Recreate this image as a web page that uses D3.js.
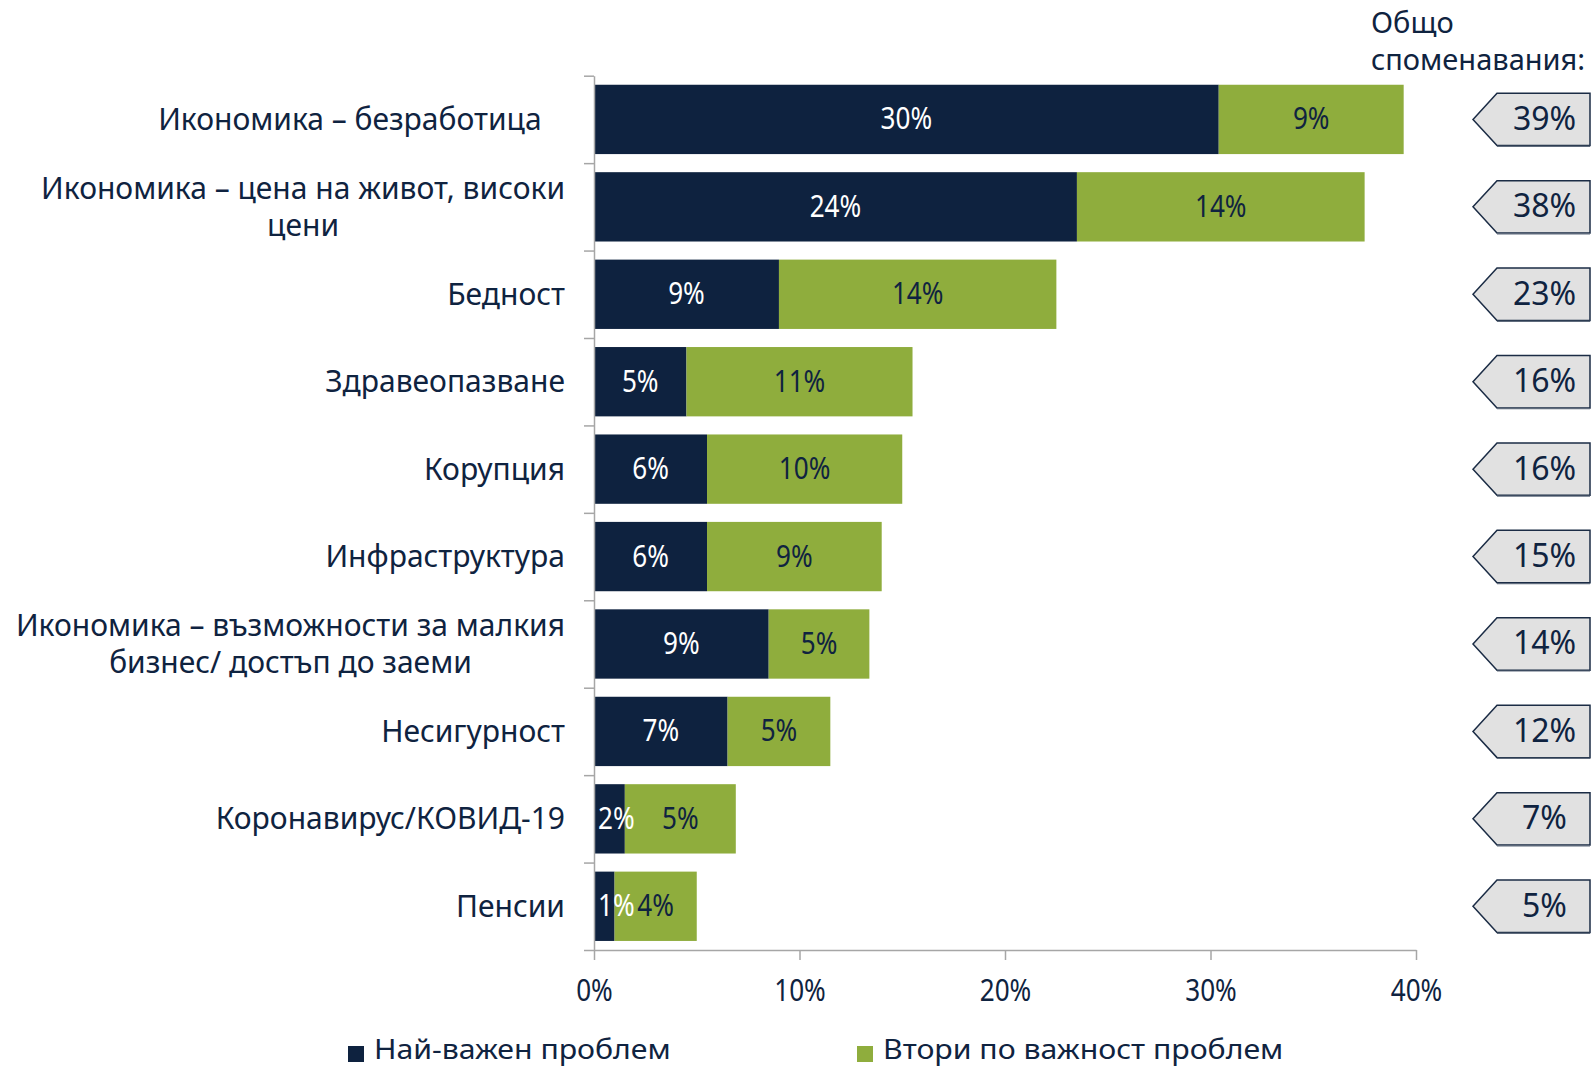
<!DOCTYPE html>
<html><head><meta charset="utf-8">
<script src="https://cdn.jsdelivr.net/npm/d3@7"></script>
<style>
html,body{margin:0;padding:0;background:#fff;}
svg{display:block;}
text{font-family:"Noto Sans",sans-serif;fill:#0f2340;}
</style></head>
<body>
<svg id="chart" width="1591" height="1068"></svg>
<script>
// ---- data ----
const categories = [
  ["Икономика – безработица\u00a0\u00a0\u00a0"],
  ["Икономика – цена на живот, високи", "цени"],
  ["Бедност"],
  ["Здравеопазване"],
  ["Корупция"],
  ["Инфраструктура"],
  ["Икономика – възможности за малкия", "бизнес/ достъп до заеми"],
  ["Несигурност"],
  ["Коронавирус/КОВИД-19"],
  ["Пенсии"]
];
const mostImportant = [30.4, 23.5, 9.0, 4.5, 5.5, 5.5, 8.5, 6.5, 1.5, 1.0];
const secondImportant = [9.0, 14.0, 13.5, 11.0, 9.5, 8.5, 4.9, 5.0, 5.4, 4.0];
const totalMentions = [39, 38, 23, 16, 16, 15, 14, 12, 7, 5];
const xTicks = [0, 10, 20, 30, 40];
const seriesNames = ["Най-важен проблем", "Втори по важност проблем"];
const totalTitle = ["Общо", "споменавания:"];

// ---- style ----
const DARK = "#0e223f", GREEN = "#8fad3d", AXIS = "#a6a6a6", TEXT = "#0f2340";

const svg = d3.select("#chart");
const idx = d3.range(categories.length);
const x = d3.scaleLinear().domain([0, 40]).range([594, 1416]);
const y = d3.scaleBand().domain(idx).range([75.7, 950]).paddingInner(0.207).paddingOuter(0.1035);
const yB = d3.scaleLinear().domain([0, categories.length]).range([75.7, 950]);

// scaled text helper
function stext(g, tx, ty, str, anchor, fs, sx) {
  return g.append("text")
    .attr("transform", `translate(${tx},${ty}) scale(${sx},1)`)
    .attr("text-anchor", anchor || "start")
    .attr("font-size", fs)
    .text(str);
}
const NUM_FS = 30, NUM_SX = 0.87;
const LAB_FS = 30, LAB_SX = 1.0;

// bars
const rows = svg.append("g").selectAll("g").data(idx).join("g");
rows.append("rect")
  .attr("x", x(0)).attr("y", i => y(i))
  .attr("width", i => x(mostImportant[i]) - x(0))
  .attr("height", y.bandwidth()).attr("fill", DARK);
rows.append("rect")
  .attr("x", i => x(mostImportant[i])).attr("y", i => y(i))
  .attr("width", i => x(mostImportant[i] + secondImportant[i]) - x(mostImportant[i]))
  .attr("height", y.bandwidth()).attr("fill", GREEN);

// axes
const yAxis = svg.append("g").attr("transform", `translate(${x(0)},0)`)
  .call(d3.axisLeft(yB).tickValues(d3.range(categories.length + 1)).tickFormat("").tickSizeInner(10).tickSizeOuter(0));
yAxis.selectAll("path,line").attr("stroke", AXIS).attr("stroke-width", 1.5);

const xAxis = svg.append("g").attr("transform", `translate(0,${yB(categories.length)})`)
  .call(d3.axisBottom(x).tickValues(xTicks).tickFormat(d => d + "%").tickSizeInner(10).tickSizeOuter(0));
xAxis.selectAll("path,line").attr("stroke", AXIS).attr("stroke-width", 1.5);
xAxis.selectAll("text")
  .attr("y", 51).attr("dy", null)
  .attr("font-size", NUM_FS).attr("fill", TEXT)
  .attr("font-family", "Noto Sans")
  .attr("transform", `scale(${NUM_SX},1)`);

// bar labels
rows.each(function(i) {
  const g = d3.select(this);
  const cy = y(i) + y.bandwidth() / 2 + 10;
  const x0 = x(0), x1 = x(mostImportant[i]), x2 = x(mostImportant[i] + secondImportant[i]);
  const t1 = stext(g, 0, cy, Math.round(mostImportant[i]) + "%", "middle", NUM_FS, NUM_SX).style("fill", "#fff");
  const w1 = t1.node().getComputedTextLength() * NUM_SX;
  const c1 = Math.max((x0 + x1) / 2, x0 + 4 + w1 / 2);
  t1.attr("transform", `translate(${c1},${cy}) scale(${NUM_SX},1)`);
  const c2 = (x1 + x2) / 2;
  stext(g, c2, cy, Math.round(secondImportant[i]) + "%", "middle", NUM_FS, NUM_SX).style("fill", TEXT);
});

// category labels
const labG = svg.append("g");
idx.forEach(i => {
  const lines = categories[i];
  const cy = y(i) + y.bandwidth() / 2;
  if (lines.length === 1) {
    stext(labG, 565, cy + 10.5, lines[0], "end", LAB_FS, LAB_SX);
  } else {
    const yy = k => cy + 10.5 + (k - (lines.length - 1) / 2) * 36.5;
    const ts = lines.map((l, k) => stext(labG, 0, yy(k), l, "middle", LAB_FS, LAB_SX));
    const maxW = d3.max(ts, t => t.node().getComputedTextLength() * LAB_SX);
    const cx = 565 - maxW / 2;
    ts.forEach((t, k) => t.attr("transform", `translate(${cx},${yy(k)}) scale(${LAB_SX},1)`));
  }
});

// total mentions title
const tg = svg.append("g");
totalTitle.forEach((l, k) => stext(tg, 1371, 33 + k * 37, l, "start", 29, 1.0));

// callouts
const cg = svg.append("g");
idx.forEach(i => {
  const cy = y(i) + y.bandwidth() / 2;
  const h = 26.2, tip = 1473, sl = 1497, right = 1590;
  cg.append("path")
    .attr("d", `M${tip},${cy} L${sl},${cy - h} L${right},${cy - h} L${right},${cy + h} L${sl},${cy + h} Z`)
    .attr("fill", "#e1e1e1").attr("stroke", "#1b2c45").attr("stroke-width", 1.5);
  cg.append("line").attr("x1", sl).attr("x2", right).attr("y1", cy + h + 0.8).attr("y2", cy + h + 0.8)
    .attr("stroke", "#5f6b7c").attr("stroke-width", 1.2);
  stext(cg, 1544.5, cy + 10.5, totalMentions[i] + "%", "middle", 32, 1.0);
});

// legend
const lg = svg.append("g");
const legX = [348, 857];
seriesNames.forEach((n, k) => {
  lg.append("rect").attr("x", legX[k]).attr("y", 1046).attr("width", 16).attr("height", 16)
    .attr("fill", k === 0 ? DARK : GREEN);
  stext(lg, legX[k] + 26, 1059, n, "start", 28, 1.08);
});
</script>
</body></html>
